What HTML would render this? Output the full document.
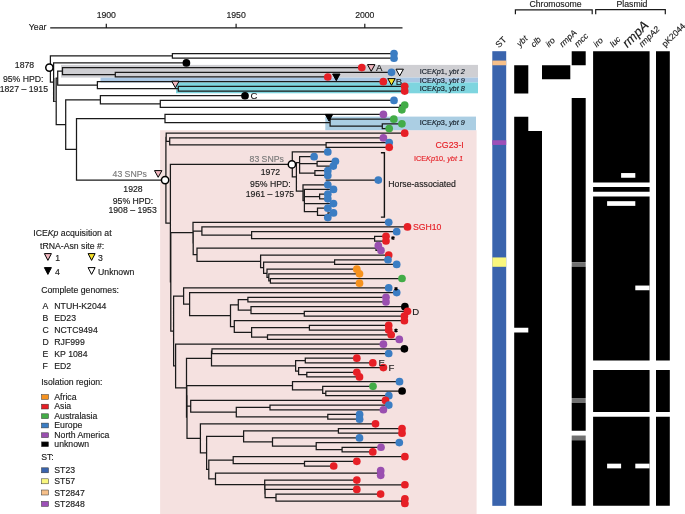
<!DOCTYPE html>
<html><head><meta charset="utf-8"><title>Figure</title><style>html,body{margin:0;padding:0;background:#fff;width:685px;height:514px;overflow:hidden}</style></head><body>
<svg width="685" height="514" viewBox="0 0 685 514" style="display:block;will-change:transform">
<style>text{stroke:currentColor;stroke-width:0.18px;stroke-opacity:0.8}</style>
<rect x="0" y="0" width="685" height="514" fill="#ffffff"/>
<rect x="160.1" y="130.2" width="316.5" height="383.8" fill="#f5e1e0"/>
<rect x="61.0" y="64.9" width="417.0" height="12.7" fill="#cfcfd3"/>
<rect x="100.5" y="77.6" width="377.5" height="4.8" fill="#a9c7e4"/>
<rect x="176.0" y="82.4" width="302.0" height="10.9" fill="#7ed5df"/>
<rect x="325.3" y="116.6" width="150.7" height="13.6" fill="#abcee3"/>
<path d="M172.4 53.54L394.0 53.54M172.4 58.23L394.0 58.23M172.4 53.54L172.4 58.23M50.4 55.89L172.4 55.89M53.6 62.92L186.4 62.92M62.5 67.60L361.8 67.60M115.3 72.29L391.5 72.29M115.3 76.98L327.8 76.98M115.3 72.29L115.3 76.98M62.5 74.63L115.3 74.63M62.5 67.60L62.5 74.63M57.7 71.12L62.5 71.12M97.4 81.67L383.3 81.67M178.3 86.35L404.7 86.35M178.3 91.04L404.7 91.04M178.3 86.35L178.3 91.04M97.4 88.70L178.3 88.70M97.4 81.67L97.4 88.70M57.7 85.18L97.4 85.18M57.7 71.12L57.7 85.18M56.2 78.15L57.7 78.15M100.4 95.73L245.0 95.73M160.3 100.41L394.0 100.41M400.0 105.10L404.7 105.10M400.0 109.79L401.9 109.79M400.0 105.10L400.0 109.79M160.3 107.44L400.0 107.44M160.3 100.41L160.3 107.44M100.4 103.93L160.3 103.93M100.4 95.73L100.4 103.93M65.7 99.83L100.4 99.83M165.0 114.47L383.4 114.47M330.1 119.16L393.8 119.16M382.3 123.85L401.9 123.85M382.3 128.54L389.2 128.54M382.3 123.85L382.3 128.54M330.1 126.19L382.3 126.19M330.1 119.16L330.1 126.19M165.0 122.68L330.1 122.68M165.0 114.47L165.0 122.68M76.5 118.58L165.0 118.58M166.2 133.22L404.7 133.22M169.7 137.91L383.4 137.91M326.1 142.60L389.2 142.60M326.1 147.28L389.2 147.28M326.1 142.60L326.1 147.28M169.7 144.94L326.1 144.94M169.7 137.91L169.7 144.94M166.2 141.42L169.7 141.42M166.2 133.22L166.2 141.42M165.9 137.32L166.2 137.32M292.3 151.97L327.8 151.97M299.6 156.66L314.1 156.66M317.1 161.34L335.4 161.34M317.1 166.03L333.3 166.03M317.1 161.34L317.1 166.03M299.6 163.69L317.1 163.69M314.9 170.72L327.8 170.72M314.9 175.41L327.8 175.41M314.9 170.72L314.9 175.41M299.6 173.06L314.9 173.06M299.6 156.66L299.6 173.06M296.4 162.50L299.6 162.50M303.0 184.78L327.8 184.78M304.4 189.47L333.5 189.47M319.6 194.15L327.8 194.15M319.6 198.84L327.8 198.84M319.6 194.15L319.6 198.84M304.4 196.50L319.6 196.50M304.4 203.53L333.5 203.53M317.5 208.21L327.8 208.21M328.0 212.90L333.5 212.90M328.0 217.59L327.8 217.59M328.0 212.90L328.0 217.59M317.5 215.25L328.0 215.25M317.5 208.21L317.5 215.25M304.4 211.73L317.5 211.73M304.4 189.47L304.4 211.73M303.0 200.60L304.4 200.60M303.0 184.78L303.0 200.60M296.4 191.20L303.0 191.20M296.4 162.50L296.4 191.20M292.3 176.85L296.4 176.85M292.3 151.97L292.3 176.85M170.4 164.41L292.3 164.41M193.0 222.28L388.7 222.28M201.9 226.96L407.5 226.96M251.6 231.65L396.7 231.65M374.6 236.34L386.0 236.34M374.6 241.02L386.0 241.02M374.6 236.34L374.6 241.02M251.6 238.68L374.6 238.68M251.6 231.65L251.6 238.68M201.9 235.16L251.6 235.16M201.9 226.96L201.9 235.16M193.2 231.06L201.9 231.06M376.0 245.71L378.3 245.71M376.0 250.40L381.0 250.40M376.0 245.71L376.0 250.40M197.0 248.05L376.0 248.05M260.6 255.08L388.7 255.08M334.6 259.77L388.0 259.77M334.6 264.46L396.7 264.46M334.6 259.77L334.6 264.46M263.6 262.12L334.6 262.12M267.0 269.15L356.8 269.15M268.8 273.83L359.5 273.83M270.4 278.52L402.0 278.52M270.4 283.21L359.5 283.21M270.4 278.52L270.4 283.21M268.8 280.86L270.4 280.86M268.8 273.83L268.8 280.86M267.0 277.35L268.8 277.35M267.0 269.15L267.0 277.35M263.6 273.25L267.0 273.25M263.6 262.12L263.6 273.25M260.6 267.68L263.6 267.68M260.6 255.08L260.6 267.68M197.0 261.38L260.6 261.38M197.0 248.05L197.0 261.38M193.2 254.72L197.0 254.72M193.2 231.06L193.2 254.72M193.0 242.89L193.2 242.89M193.0 222.28L193.0 242.89M170.8 232.58L193.0 232.58M183.6 287.89L388.7 287.89M189.6 292.58L396.7 292.58M247.9 297.27L386.0 297.27M247.9 301.95L386.0 301.95M247.9 297.27L247.9 301.95M238.3 299.61L247.9 299.61M251.0 306.64L404.9 306.64M304.3 311.33L407.5 311.33M304.3 316.02L404.4 316.02M304.3 311.33L304.3 316.02M251.0 313.67L304.3 313.67M251.0 306.64L251.0 313.67M238.3 310.16L251.0 310.16M238.3 299.61L238.3 310.16M230.5 304.88L238.3 304.88M234.3 320.70L404.4 320.70M309.4 325.39L388.7 325.39M309.4 330.08L388.7 330.08M309.4 325.39L309.4 330.08M251.6 327.73L309.4 327.73M267.5 334.76L391.2 334.76M267.5 339.45L399.3 339.45M267.5 334.76L267.5 339.45M251.6 337.11L267.5 337.11M251.6 327.73L251.6 337.11M234.3 332.42L251.6 332.42M234.3 320.70L234.3 332.42M230.5 326.56L234.3 326.56M230.5 304.88L230.5 326.56M189.6 315.72L230.5 315.72M189.6 292.58L189.6 315.72M183.6 304.15L189.6 304.15M183.6 287.89L183.6 304.15M173.6 296.02L183.6 296.02M175.6 344.14L383.4 344.14M212.0 348.82L404.4 348.82M212.0 353.51L388.7 353.51M212.0 348.82L212.0 353.51M211.5 351.17L212.0 351.17M305.3 358.20L356.8 358.20M305.3 362.89L372.8 362.89M305.3 358.20L305.3 362.89M295.6 360.54L305.3 360.54M298.6 367.57L383.4 367.57M306.8 372.26L356.8 372.26M306.8 376.95L359.5 376.95M306.8 372.26L306.8 376.95M298.6 374.60L306.8 374.60M298.6 367.57L298.6 374.60M295.6 371.09L298.6 371.09M295.6 360.54L295.6 371.09M211.5 365.81L295.6 365.81M211.5 351.17L211.5 365.81M186.5 358.49L211.5 358.49M292.5 381.63L399.5 381.63M322.7 386.32L373.0 386.32M325.8 391.01L402.1 391.01M325.8 395.69L388.8 395.69M325.8 391.01L325.8 395.69M322.7 393.35L325.8 393.35M322.7 386.32L322.7 393.35M292.5 389.84L322.7 389.84M292.5 381.63L292.5 389.84M186.8 385.73L292.5 385.73M190.7 400.38L385.5 400.38M270.0 405.07L388.8 405.07M270.0 409.76L383.4 409.76M270.0 405.07L270.0 409.76M236.3 407.41L270.0 407.41M327.8 414.44L359.6 414.44M327.8 419.13L359.6 419.13M327.8 414.44L327.8 419.13M236.3 416.79L327.8 416.79M236.3 407.41L236.3 416.79M190.7 412.10L236.3 412.10M190.7 400.38L190.7 412.10M186.8 406.24L190.7 406.24M186.8 385.73L186.8 406.24M187.0 395.99L186.8 395.99M200.4 423.82L375.5 423.82M338.4 428.50L402.0 428.50M338.4 433.19L402.0 433.19M338.4 428.50L338.4 433.19M243.6 430.85L338.4 430.85M272.5 437.88L359.5 437.88M316.2 442.56L399.3 442.56M342.1 447.25L381.0 447.25M342.1 451.94L372.8 451.94M342.1 447.25L342.1 451.94M316.2 449.60L342.1 449.60M316.2 442.56L316.2 449.60M272.5 446.08L316.2 446.08M272.5 437.88L272.5 446.08M243.6 441.98L272.5 441.98M243.6 430.85L243.6 441.98M206.6 436.41L243.6 436.41M233.2 456.63L404.9 456.63M304.5 461.31L356.8 461.31M304.5 466.00L333.7 466.00M304.5 461.31L304.5 466.00M233.2 463.66L304.5 463.66M233.2 456.63L233.2 463.66M208.8 460.14L233.2 460.14M378.0 470.69L380.7 470.69M378.0 475.37L380.7 475.37M378.0 470.69L378.0 475.37M215.5 473.03L378.0 473.03M264.7 480.06L356.8 480.06M264.9 484.75L404.9 484.75M265.1 489.43L356.8 489.43M276.0 494.12L380.6 494.12M402.0 498.81L404.9 498.81M402.0 503.50L404.9 503.50M402.0 498.81L402.0 503.50M276.0 501.15L402.0 501.15M276.0 494.12L276.0 501.15M265.1 497.64L276.0 497.64M265.1 489.43L265.1 497.64M264.9 493.54L265.1 493.54M264.9 484.75L264.9 493.54M264.7 489.14L264.9 489.14M264.7 480.06L264.7 489.14M215.5 484.60L264.7 484.60M215.5 473.03L215.5 484.60M208.8 478.82L215.5 478.82M208.8 460.14L208.8 478.82M206.6 469.48L208.8 469.48M206.6 436.41L206.6 469.48M200.4 452.95L206.6 452.95M200.4 423.82L200.4 452.95M187.0 438.38L200.4 438.38M187.0 395.99L187.0 438.38M186.5 417.18L187.0 417.18M186.5 358.49L186.5 417.18M175.6 387.84L186.5 387.84M175.6 344.14L175.6 387.84M173.6 365.99L175.6 365.99M173.6 296.02L173.6 365.99M170.8 331.01L173.6 331.01M170.8 232.58L170.8 331.01M170.4 281.79L170.8 281.79M170.4 164.41L170.4 281.79M165.9 223.10L170.4 223.10M165.9 137.32L165.9 223.10M76.5 180.21L165.9 180.21M76.5 118.58L76.5 180.21M65.7 149.39L76.5 149.39M65.7 99.83L65.7 149.39M56.2 124.61L65.7 124.61M56.2 78.15L56.2 124.61M53.6 101.38L56.2 101.38M53.6 62.92L53.6 101.38M50.4 82.15L53.6 82.15M50.4 55.89L50.4 82.15M326.3 180.09L378.3 180.09" stroke="#1a1a1a" stroke-width="1.25" fill="none" stroke-linecap="square"/>
<line x1="55.0" y1="78.0" x2="55.0" y2="101.3" stroke="#8a8a8a" stroke-width="2"/>
<circle cx="394.0" cy="53.54" r="3.85" fill="#3b7dc3"/>
<circle cx="394.0" cy="58.23" r="3.85" fill="#3b7dc3"/>
<circle cx="186.4" cy="62.92" r="3.85" fill="#000000"/>
<circle cx="361.8" cy="67.60" r="3.85" fill="#e61f26"/>
<circle cx="391.5" cy="72.29" r="3.85" fill="#3b7dc3"/>
<circle cx="327.8" cy="76.98" r="3.85" fill="#e61f26"/>
<circle cx="383.3" cy="81.67" r="3.85" fill="#e61f26"/>
<circle cx="404.7" cy="86.35" r="3.85" fill="#e61f26"/>
<circle cx="404.7" cy="91.04" r="3.85" fill="#e61f26"/>
<circle cx="245.0" cy="95.73" r="3.85" fill="#000000"/>
<circle cx="394.0" cy="100.41" r="3.85" fill="#3b7dc3"/>
<circle cx="404.7" cy="105.10" r="3.85" fill="#43ac47"/>
<circle cx="401.9" cy="109.79" r="3.85" fill="#43ac47"/>
<circle cx="383.4" cy="114.47" r="3.85" fill="#9a4fb0"/>
<circle cx="393.8" cy="119.16" r="3.85" fill="#43ac47"/>
<circle cx="401.9" cy="123.85" r="3.85" fill="#43ac47"/>
<circle cx="389.2" cy="128.54" r="3.85" fill="#43ac47"/>
<circle cx="404.7" cy="133.22" r="3.85" fill="#e61f26"/>
<circle cx="383.4" cy="137.91" r="3.85" fill="#9a4fb0"/>
<circle cx="389.2" cy="142.60" r="3.85" fill="#3b7dc3"/>
<circle cx="389.2" cy="147.28" r="3.85" fill="#e61f26"/>
<circle cx="327.8" cy="151.97" r="3.85" fill="#3b7dc3"/>
<circle cx="314.1" cy="156.66" r="3.85" fill="#3b7dc3"/>
<circle cx="335.4" cy="161.34" r="3.85" fill="#3b7dc3"/>
<circle cx="333.3" cy="166.03" r="3.85" fill="#3b7dc3"/>
<circle cx="327.8" cy="170.72" r="3.85" fill="#3b7dc3"/>
<circle cx="327.8" cy="175.41" r="3.85" fill="#3b7dc3"/>
<circle cx="327.8" cy="184.78" r="3.85" fill="#3b7dc3"/>
<circle cx="333.5" cy="189.47" r="3.85" fill="#3b7dc3"/>
<circle cx="327.8" cy="194.15" r="3.85" fill="#3b7dc3"/>
<circle cx="327.8" cy="198.84" r="3.85" fill="#3b7dc3"/>
<circle cx="333.5" cy="203.53" r="3.85" fill="#3b7dc3"/>
<circle cx="327.8" cy="208.21" r="3.85" fill="#3b7dc3"/>
<circle cx="333.5" cy="212.90" r="3.85" fill="#3b7dc3"/>
<circle cx="327.8" cy="217.59" r="3.85" fill="#3b7dc3"/>
<circle cx="388.7" cy="222.28" r="3.85" fill="#3b7dc3"/>
<circle cx="407.5" cy="226.96" r="3.85" fill="#e61f26"/>
<circle cx="396.7" cy="231.65" r="3.85" fill="#3b7dc3"/>
<circle cx="386.0" cy="236.34" r="3.85" fill="#e61f26"/>
<circle cx="386.0" cy="241.02" r="3.85" fill="#e61f26"/>
<circle cx="378.3" cy="245.71" r="3.85" fill="#9a4fb0"/>
<circle cx="381.0" cy="250.40" r="3.85" fill="#9a4fb0"/>
<circle cx="388.7" cy="255.08" r="3.85" fill="#e61f26"/>
<circle cx="388.0" cy="259.77" r="3.85" fill="#3b7dc3"/>
<circle cx="396.7" cy="264.46" r="3.85" fill="#3b7dc3"/>
<circle cx="356.8" cy="269.15" r="3.85" fill="#f6921e"/>
<circle cx="359.5" cy="273.83" r="3.85" fill="#f6921e"/>
<circle cx="402.0" cy="278.52" r="3.85" fill="#43ac47"/>
<circle cx="359.5" cy="283.21" r="3.85" fill="#f6921e"/>
<circle cx="388.7" cy="287.89" r="3.85" fill="#3b7dc3"/>
<circle cx="396.7" cy="292.58" r="3.85" fill="#3b7dc3"/>
<circle cx="386.0" cy="297.27" r="3.85" fill="#9a4fb0"/>
<circle cx="386.0" cy="301.95" r="3.85" fill="#9a4fb0"/>
<circle cx="404.9" cy="306.64" r="3.85" fill="#000000"/>
<circle cx="407.5" cy="311.33" r="3.85" fill="#e61f26"/>
<circle cx="404.4" cy="316.02" r="3.85" fill="#e61f26"/>
<circle cx="404.4" cy="320.70" r="3.85" fill="#e61f26"/>
<circle cx="388.7" cy="325.39" r="3.85" fill="#e61f26"/>
<circle cx="388.7" cy="330.08" r="3.85" fill="#e61f26"/>
<circle cx="391.2" cy="334.76" r="3.85" fill="#e61f26"/>
<circle cx="399.3" cy="339.45" r="3.85" fill="#9a4fb0"/>
<circle cx="383.4" cy="344.14" r="3.85" fill="#9a4fb0"/>
<circle cx="404.4" cy="348.82" r="3.85" fill="#000000"/>
<circle cx="388.7" cy="353.51" r="3.85" fill="#3b7dc3"/>
<circle cx="356.8" cy="358.20" r="3.85" fill="#e61f26"/>
<circle cx="372.8" cy="362.89" r="3.85" fill="#e61f26"/>
<circle cx="383.4" cy="367.57" r="3.85" fill="#e61f26"/>
<circle cx="356.8" cy="372.26" r="3.85" fill="#e61f26"/>
<circle cx="359.5" cy="376.95" r="3.85" fill="#e61f26"/>
<circle cx="399.5" cy="381.63" r="3.85" fill="#3b7dc3"/>
<circle cx="373.0" cy="386.32" r="3.85" fill="#43ac47"/>
<circle cx="402.1" cy="391.01" r="3.85" fill="#000000"/>
<circle cx="388.8" cy="395.69" r="3.85" fill="#3b7dc3"/>
<circle cx="385.5" cy="400.38" r="3.85" fill="#e61f26"/>
<circle cx="388.8" cy="405.07" r="3.85" fill="#3b7dc3"/>
<circle cx="383.4" cy="409.76" r="3.85" fill="#9a4fb0"/>
<circle cx="359.6" cy="414.44" r="3.85" fill="#3b7dc3"/>
<circle cx="359.6" cy="419.13" r="3.85" fill="#3b7dc3"/>
<circle cx="375.5" cy="423.82" r="3.85" fill="#e61f26"/>
<circle cx="402.0" cy="428.50" r="3.85" fill="#e61f26"/>
<circle cx="402.0" cy="433.19" r="3.85" fill="#e61f26"/>
<circle cx="359.5" cy="437.88" r="3.85" fill="#3b7dc3"/>
<circle cx="399.3" cy="442.56" r="3.85" fill="#3b7dc3"/>
<circle cx="381.0" cy="447.25" r="3.85" fill="#9a4fb0"/>
<circle cx="372.8" cy="451.94" r="3.85" fill="#e61f26"/>
<circle cx="404.9" cy="456.63" r="3.85" fill="#e61f26"/>
<circle cx="356.8" cy="461.31" r="3.85" fill="#e61f26"/>
<circle cx="333.7" cy="466.00" r="3.85" fill="#e61f26"/>
<circle cx="380.7" cy="470.69" r="3.85" fill="#9a4fb0"/>
<circle cx="380.7" cy="475.37" r="3.85" fill="#9a4fb0"/>
<circle cx="356.8" cy="480.06" r="3.85" fill="#e61f26"/>
<circle cx="404.9" cy="484.75" r="3.85" fill="#e61f26"/>
<circle cx="356.8" cy="489.43" r="3.85" fill="#e61f26"/>
<circle cx="380.6" cy="494.12" r="3.85" fill="#e61f26"/>
<circle cx="404.9" cy="498.81" r="3.85" fill="#e61f26"/>
<circle cx="404.9" cy="503.50" r="3.85" fill="#e61f26"/>
<circle cx="378.3" cy="180.09" r="3.85" fill="#3b7dc3"/>
<path d="M367.50 64.60L374.90 64.60L371.20 71.30Z" fill="#f2b8c0" stroke="#000" stroke-width="1.0" stroke-linejoin="miter"/>
<path d="M396.00 69.20L403.40 69.20L399.70 75.90Z" fill="#ffffff" stroke="#000" stroke-width="1.0" stroke-linejoin="miter"/>
<path d="M332.60 74.00L340.00 74.00L336.30 80.70Z" fill="#000000" stroke="#000" stroke-width="1.0" stroke-linejoin="miter"/>
<path d="M387.80 78.60L395.20 78.60L391.50 85.30Z" fill="#f5e02a" stroke="#000" stroke-width="1.0" stroke-linejoin="miter"/>
<path d="M325.30 114.40L332.70 114.40L329.00 121.10Z" fill="#000000" stroke="#000" stroke-width="1.0" stroke-linejoin="miter"/>
<path d="M154.50 170.60L161.90 170.60L158.20 177.30Z" fill="#f2b8c0" stroke="#000" stroke-width="1.0" stroke-linejoin="miter"/>
<path d="M171.70 81.20L179.10 81.20L175.40 87.80Z" fill="#f2b8c0" stroke="#000" stroke-width="1.0" stroke-linejoin="miter"/>
<circle cx="49.4" cy="67.6" r="3.65" fill="#fff" stroke="#000" stroke-width="1.5"/>
<circle cx="165.1" cy="180.1" r="3.65" fill="#fff" stroke="#000" stroke-width="1.5"/>
<circle cx="291.9" cy="164.4" r="3.65" fill="#fff" stroke="#000" stroke-width="1.5"/>
<path d="M380.9 152.8H384.4V217.1H380.9" stroke="#111" stroke-width="1.4" fill="none"/>
<path d="M50.2 27.8H402.5M106.3 27.8V23.8M236.1 27.8V23.8M364.8 27.8V23.8" stroke="#1a1a1a" stroke-width="1.2" fill="none"/>
<text x="37.6" y="30.2" font-size="8.7" text-anchor="middle" fill="#1a1a1a" color="#1a1a1a" style="font-family:'Liberation Sans',sans-serif" >Year</text>
<text x="106.3" y="18.4" font-size="8.7" text-anchor="middle" fill="#1a1a1a" color="#1a1a1a" style="font-family:'Liberation Sans',sans-serif" >1900</text>
<text x="236.1" y="18.4" font-size="8.7" text-anchor="middle" fill="#1a1a1a" color="#1a1a1a" style="font-family:'Liberation Sans',sans-serif" >1950</text>
<text x="364.8" y="18.4" font-size="8.7" text-anchor="middle" fill="#1a1a1a" color="#1a1a1a" style="font-family:'Liberation Sans',sans-serif" >2000</text>
<text x="24.5" y="68.1" font-size="8.7" text-anchor="middle" fill="#1a1a1a" color="#1a1a1a" style="font-family:'Liberation Sans',sans-serif" >1878</text>
<text x="23.2" y="81.5" font-size="8.7" text-anchor="middle" fill="#1a1a1a" color="#1a1a1a" style="font-family:'Liberation Sans',sans-serif" >95% HPD:</text>
<text x="23.8" y="92.0" font-size="8.7" text-anchor="middle" fill="#1a1a1a" color="#1a1a1a" style="font-family:'Liberation Sans',sans-serif" >1827 – 1915</text>
<text x="129.7" y="176.8" font-size="8.7" text-anchor="middle" fill="#7a7a7a" color="#7a7a7a" style="font-family:'Liberation Sans',sans-serif" >43 SNPs</text>
<text x="133.0" y="191.8" font-size="8.7" text-anchor="middle" fill="#1a1a1a" color="#1a1a1a" style="font-family:'Liberation Sans',sans-serif" >1928</text>
<text x="133.0" y="203.9" font-size="8.7" text-anchor="middle" fill="#1a1a1a" color="#1a1a1a" style="font-family:'Liberation Sans',sans-serif" >95% HPD:</text>
<text x="132.6" y="213.2" font-size="8.7" text-anchor="middle" fill="#1a1a1a" color="#1a1a1a" style="font-family:'Liberation Sans',sans-serif" >1908 – 1953</text>
<text x="266.7" y="161.5" font-size="8.7" text-anchor="middle" fill="#7a7a7a" color="#7a7a7a" style="font-family:'Liberation Sans',sans-serif" >83 SNPs</text>
<text x="270.4" y="175.2" font-size="8.7" text-anchor="middle" fill="#1a1a1a" color="#1a1a1a" style="font-family:'Liberation Sans',sans-serif" >1972</text>
<text x="270.4" y="186.6" font-size="8.7" text-anchor="middle" fill="#1a1a1a" color="#1a1a1a" style="font-family:'Liberation Sans',sans-serif" >95% HPD:</text>
<text x="269.9" y="196.8" font-size="8.7" text-anchor="middle" fill="#1a1a1a" color="#1a1a1a" style="font-family:'Liberation Sans',sans-serif" >1961 – 1975</text>
<text x="388.3" y="186.6" font-size="8.7" text-anchor="start" fill="#1a1a1a" color="#1a1a1a" style="font-family:'Liberation Sans',sans-serif" >Horse-associated</text>
<text x="375.9" y="70.9" font-size="9.6" text-anchor="start" fill="#1a1a1a" color="#1a1a1a" style="font-family:'Liberation Sans',sans-serif" >A</text>
<text x="395.8" y="84.9" font-size="9.6" text-anchor="start" fill="#1a1a1a" color="#1a1a1a" style="font-family:'Liberation Sans',sans-serif" >B</text>
<text x="250.6" y="99.2" font-size="9.6" text-anchor="start" fill="#1a1a1a" color="#1a1a1a" style="font-family:'Liberation Sans',sans-serif" >C</text>
<text x="412.3" y="314.6" font-size="9.6" text-anchor="start" fill="#1a1a1a" color="#1a1a1a" style="font-family:'Liberation Sans',sans-serif" >D</text>
<text x="378.5" y="365.5" font-size="9.6" text-anchor="start" fill="#1a1a1a" color="#1a1a1a" style="font-family:'Liberation Sans',sans-serif" >E</text>
<text x="388.6" y="371.4" font-size="9.6" text-anchor="start" fill="#1a1a1a" color="#1a1a1a" style="font-family:'Liberation Sans',sans-serif" >F</text>
<text x="412.9" y="230.0" font-size="8.7" text-anchor="start" fill="#e61f26" color="#e61f26" style="font-family:'Liberation Sans',sans-serif" >SGH10</text>
<path d="M393.00 236.10V239.90M391.35 237.05L394.65 238.95M394.65 237.05L391.35 238.95" stroke="#000" stroke-width="1.1" fill="none"/>
<path d="M396.00 286.90V290.70M394.35 287.85L397.65 289.75M397.65 287.85L394.35 289.75" stroke="#000" stroke-width="1.1" fill="none"/>
<path d="M396.00 328.60V332.40M394.35 329.55L397.65 331.45M397.65 329.55L394.35 331.45" stroke="#000" stroke-width="1.1" fill="none"/>
<text x="464.8" y="73.8" font-size="7.3" text-anchor="end" fill="#111a24" color="#111a24" style="font-family:'Liberation Sans',sans-serif">ICE<tspan font-style="italic">Kp</tspan>1, <tspan font-style="italic">ybt 2</tspan></text>
<text x="464.8" y="83.1" font-size="7.3" text-anchor="end" fill="#111a24" color="#111a24" style="font-family:'Liberation Sans',sans-serif">ICE<tspan font-style="italic">Kp</tspan>3, <tspan font-style="italic">ybt 9</tspan></text>
<text x="464.8" y="91.0" font-size="7.3" text-anchor="end" fill="#111a24" color="#111a24" style="font-family:'Liberation Sans',sans-serif">ICE<tspan font-style="italic">Kp</tspan>3, <tspan font-style="italic">ybt 8</tspan></text>
<text x="464.8" y="125.2" font-size="7.3" text-anchor="end" fill="#111a24" color="#111a24" style="font-family:'Liberation Sans',sans-serif">ICE<tspan font-style="italic">Kp</tspan>3, <tspan font-style="italic">ybt 9</tspan></text>
<text x="463.0" y="160.7" font-size="7.3" text-anchor="end" fill="#e61f26" color="#e61f26" style="font-family:'Liberation Sans',sans-serif">ICE<tspan font-style="italic">Kp</tspan>10, <tspan font-style="italic">ybt 1</tspan></text>
<text x="463.8" y="148.3" font-size="8.8" text-anchor="end" fill="#e61f26" color="#e61f26" style="font-family:'Liberation Sans',sans-serif" >CG23-I</text>
<text x="33.3" y="235.8" font-size="8.7" fill="#1a1a1a" color="#1a1a1a" style="font-family:'Liberation Sans',sans-serif">ICE<tspan font-style="italic">Kp</tspan> acquisition at</text>
<text x="40.0" y="248.9" font-size="8.7" text-anchor="start" fill="#1a1a1a" color="#1a1a1a" style="font-family:'Liberation Sans',sans-serif" >tRNA-Asn site #:</text>
<path d="M44.40 253.60L51.40 253.60L47.90 260.40Z" fill="#f2b8c0" stroke="#000" stroke-width="1.0" stroke-linejoin="miter"/>
<text x="55.2" y="260.6" font-size="8.7" text-anchor="start" fill="#1a1a1a" color="#1a1a1a" style="font-family:'Liberation Sans',sans-serif" >1</text>
<path d="M88.10 253.60L95.10 253.60L91.60 260.40Z" fill="#f5e02a" stroke="#000" stroke-width="1.0" stroke-linejoin="miter"/>
<text x="98.1" y="260.6" font-size="8.7" text-anchor="start" fill="#1a1a1a" color="#1a1a1a" style="font-family:'Liberation Sans',sans-serif" >3</text>
<path d="M44.40 267.60L51.40 267.60L47.90 274.40Z" fill="#000" stroke="#000" stroke-width="1.0" stroke-linejoin="miter"/>
<text x="55.0" y="274.6" font-size="8.7" text-anchor="start" fill="#1a1a1a" color="#1a1a1a" style="font-family:'Liberation Sans',sans-serif" >4</text>
<path d="M88.10 267.60L95.10 267.60L91.60 274.40Z" fill="#fff" stroke="#000" stroke-width="1.0" stroke-linejoin="miter"/>
<text x="98.1" y="274.7" font-size="8.7" text-anchor="start" fill="#1a1a1a" color="#1a1a1a" style="font-family:'Liberation Sans',sans-serif" >Unknown</text>
<text x="41.2" y="293.4" font-size="8.7" text-anchor="start" fill="#1a1a1a" color="#1a1a1a" style="font-family:'Liberation Sans',sans-serif" >Complete genomes:</text>
<text x="42.6" y="308.7" font-size="8.7" text-anchor="start" fill="#1a1a1a" color="#1a1a1a" style="font-family:'Liberation Sans',sans-serif" >A</text>
<text x="54.3" y="308.7" font-size="8.7" text-anchor="start" fill="#1a1a1a" color="#1a1a1a" style="font-family:'Liberation Sans',sans-serif" >NTUH-K2044</text>
<text x="42.6" y="320.6" font-size="8.7" text-anchor="start" fill="#1a1a1a" color="#1a1a1a" style="font-family:'Liberation Sans',sans-serif" >B</text>
<text x="54.3" y="320.6" font-size="8.7" text-anchor="start" fill="#1a1a1a" color="#1a1a1a" style="font-family:'Liberation Sans',sans-serif" >ED23</text>
<text x="42.6" y="332.8" font-size="8.7" text-anchor="start" fill="#1a1a1a" color="#1a1a1a" style="font-family:'Liberation Sans',sans-serif" >C</text>
<text x="54.3" y="332.8" font-size="8.7" text-anchor="start" fill="#1a1a1a" color="#1a1a1a" style="font-family:'Liberation Sans',sans-serif" >NCTC9494</text>
<text x="42.6" y="344.6" font-size="8.7" text-anchor="start" fill="#1a1a1a" color="#1a1a1a" style="font-family:'Liberation Sans',sans-serif" >D</text>
<text x="54.3" y="344.6" font-size="8.7" text-anchor="start" fill="#1a1a1a" color="#1a1a1a" style="font-family:'Liberation Sans',sans-serif" >RJF999</text>
<text x="42.6" y="356.8" font-size="8.7" text-anchor="start" fill="#1a1a1a" color="#1a1a1a" style="font-family:'Liberation Sans',sans-serif" >E</text>
<text x="54.3" y="356.8" font-size="8.7" text-anchor="start" fill="#1a1a1a" color="#1a1a1a" style="font-family:'Liberation Sans',sans-serif" >KP 1084</text>
<text x="42.6" y="368.7" font-size="8.7" text-anchor="start" fill="#1a1a1a" color="#1a1a1a" style="font-family:'Liberation Sans',sans-serif" >F</text>
<text x="54.3" y="368.7" font-size="8.7" text-anchor="start" fill="#1a1a1a" color="#1a1a1a" style="font-family:'Liberation Sans',sans-serif" >ED2</text>
<text x="41.2" y="384.5" font-size="8.7" text-anchor="start" fill="#1a1a1a" color="#1a1a1a" style="font-family:'Liberation Sans',sans-serif" >Isolation region:</text>
<rect x="41.5" y="394.6" width="7" height="4.8" fill="#f6921e" stroke="#333" stroke-width="0.5"/>
<text x="54.3" y="399.8" font-size="8.7" text-anchor="start" fill="#1a1a1a" color="#1a1a1a" style="font-family:'Liberation Sans',sans-serif" >Africa</text>
<rect x="41.5" y="404.2" width="7" height="4.8" fill="#e61f26" stroke="#333" stroke-width="0.5"/>
<text x="54.3" y="409.4" font-size="8.7" text-anchor="start" fill="#1a1a1a" color="#1a1a1a" style="font-family:'Liberation Sans',sans-serif" >Asia</text>
<rect x="41.5" y="413.8" width="7" height="4.8" fill="#43ac47" stroke="#333" stroke-width="0.5"/>
<text x="54.3" y="419.0" font-size="8.7" text-anchor="start" fill="#1a1a1a" color="#1a1a1a" style="font-family:'Liberation Sans',sans-serif" >Australasia</text>
<rect x="41.5" y="423.1" width="7" height="4.8" fill="#3b7dc3" stroke="#333" stroke-width="0.5"/>
<text x="54.3" y="428.3" font-size="8.7" text-anchor="start" fill="#1a1a1a" color="#1a1a1a" style="font-family:'Liberation Sans',sans-serif" >Europe</text>
<rect x="41.5" y="432.8" width="7" height="4.8" fill="#9a4fb0" stroke="#333" stroke-width="0.5"/>
<text x="54.3" y="438.0" font-size="8.7" text-anchor="start" fill="#1a1a1a" color="#1a1a1a" style="font-family:'Liberation Sans',sans-serif" >North America</text>
<rect x="41.5" y="441.9" width="7" height="4.8" fill="#000000" stroke="#333" stroke-width="0.5"/>
<text x="54.3" y="447.1" font-size="8.7" text-anchor="start" fill="#1a1a1a" color="#1a1a1a" style="font-family:'Liberation Sans',sans-serif" >unknown</text>
<text x="41.2" y="460.4" font-size="8.7" text-anchor="start" fill="#1a1a1a" color="#1a1a1a" style="font-family:'Liberation Sans',sans-serif" >ST:</text>
<rect x="41.5" y="467.8" width="7" height="5" fill="#3a64ad" stroke="#333" stroke-width="0.5"/>
<text x="54.3" y="473.4" font-size="8.7" text-anchor="start" fill="#1a1a1a" color="#1a1a1a" style="font-family:'Liberation Sans',sans-serif" >ST23</text>
<rect x="41.5" y="478.8" width="7" height="5" fill="#f9f77e" stroke="#333" stroke-width="0.5"/>
<text x="54.3" y="484.4" font-size="8.7" text-anchor="start" fill="#1a1a1a" color="#1a1a1a" style="font-family:'Liberation Sans',sans-serif" >ST57</text>
<rect x="41.5" y="490.0" width="7" height="5" fill="#f6c08a" stroke="#333" stroke-width="0.5"/>
<text x="54.3" y="495.6" font-size="8.7" text-anchor="start" fill="#1a1a1a" color="#1a1a1a" style="font-family:'Liberation Sans',sans-serif" >ST2847</text>
<rect x="41.5" y="501.4" width="7" height="5" fill="#9d50b8" stroke="#333" stroke-width="0.5"/>
<text x="54.3" y="507.0" font-size="8.7" text-anchor="start" fill="#1a1a1a" color="#1a1a1a" style="font-family:'Liberation Sans',sans-serif" >ST2848</text>
<rect x="492.3" y="51.20" width="13.9" height="454.64" fill="#3a64ad"/>
<rect x="492.3" y="60.57" width="13.9" height="4.69" fill="#f6c08a"/>
<rect x="492.3" y="140.25" width="13.9" height="4.69" fill="#9d50b8"/>
<rect x="492.3" y="257.43" width="13.9" height="9.37" fill="#f9f77e"/>








<rect x="571.7" y="262.12" width="14.0" height="4.69" fill="#707070"/>

<rect x="571.7" y="398.04" width="14.0" height="4.69" fill="#707070"/>

<rect x="571.7" y="435.53" width="14.0" height="4.69" fill="#707070"/>






<path d="M514.20 65.26H528.30V93.38H514.20ZM514.20 116.82H528.30V130.88H514.20ZM514.20 130.88H542.00V327.73H514.20ZM528.30 327.73H542.00V332.42H528.30ZM514.20 332.42H542.00V505.84H514.20ZM542.00 65.26H570.30V79.32H542.00ZM571.70 51.20H585.70V65.26H571.70ZM571.70 98.07H585.70V262.12H571.70ZM571.70 266.80H585.70V398.04H571.70ZM571.70 402.73H585.70V430.85H571.70ZM571.70 440.22H585.70V505.84H571.70ZM593.10 51.20H649.60V182.44H593.10ZM593.10 187.12H649.60V191.81H593.10ZM593.10 196.50H649.60V360.54H593.10ZM593.10 369.92H649.60V412.10H593.10ZM593.10 416.79H649.60V505.84H593.10Z" fill="#000"/>
<rect x="621.1" y="173.06" width="14.2" height="4.69" fill="#ffffff"/>
<rect x="607.1" y="201.18" width="28.2" height="4.69" fill="#ffffff"/>
<rect x="635.3" y="285.55" width="14.3" height="4.69" fill="#ffffff"/>
<rect x="607.1" y="463.66" width="14.0" height="4.69" fill="#ffffff"/>
<rect x="635.3" y="463.66" width="14.3" height="4.69" fill="#ffffff"/>



<path d="M656.00 51.20H669.80V360.54H656.00ZM656.00 369.92H669.80V412.10H656.00ZM656.00 416.79H669.80V505.84H656.00Z" fill="#000"/>
<path d="M515.4 14.3V9.9H592.2V14.3M595.7 14.3V9.6H665.3V14.3" stroke="#1a1a1a" stroke-width="1.2" fill="none"/>
<text x="555.5" y="6.6" font-size="8.7" text-anchor="middle" fill="#1a1a1a" color="#1a1a1a" style="font-family:'Liberation Sans',sans-serif" >Chromosome</text>
<text x="632.0" y="6.7" font-size="8.7" text-anchor="middle" fill="#1a1a1a" color="#1a1a1a" style="font-family:'Liberation Sans',sans-serif" >Plasmid</text>
<text x="0" y="0" font-size="8.8" fill="#1a1a1a" color="#1a1a1a" style="font-family:'Liberation Sans',sans-serif;" transform="translate(499.0,48.2) rotate(-45)">ST</text>
<text x="0" y="0" font-size="8.5" fill="#1a1a1a" color="#1a1a1a" style="font-family:'Liberation Sans',sans-serif;font-style:italic;" transform="translate(520.1,47.2) rotate(-45)">ybt</text>
<text x="0" y="0" font-size="8.5" fill="#1a1a1a" color="#1a1a1a" style="font-family:'Liberation Sans',sans-serif;font-style:italic;" transform="translate(533.9,47.8) rotate(-45)">clb</text>
<text x="0" y="0" font-size="8.5" fill="#1a1a1a" color="#1a1a1a" style="font-family:'Liberation Sans',sans-serif;font-style:italic;" transform="translate(549.0,47.6) rotate(-45)">iro</text>
<text x="0" y="0" font-size="8.5" fill="#1a1a1a" color="#1a1a1a" style="font-family:'Liberation Sans',sans-serif;font-style:italic;" transform="translate(562.8,47.6) rotate(-45)">rmpA</text>
<text x="0" y="0" font-size="8.5" fill="#1a1a1a" color="#1a1a1a" style="font-family:'Liberation Sans',sans-serif;font-style:italic;" transform="translate(577.8,47.6) rotate(-45)">mcc</text>
<text x="0" y="0" font-size="8.5" fill="#1a1a1a" color="#1a1a1a" style="font-family:'Liberation Sans',sans-serif;font-style:italic;" transform="translate(596.8,47.6) rotate(-45)">iro</text>
<text x="0" y="0" font-size="8.5" fill="#1a1a1a" color="#1a1a1a" style="font-family:'Liberation Sans',sans-serif;font-style:italic;" transform="translate(613.3,47.4) rotate(-45)">luc</text>
<text x="0" y="0" font-size="13.0" fill="#1a1a1a" color="#1a1a1a" style="font-family:'Liberation Sans',sans-serif;font-style:italic;" transform="translate(627.5,48.2) rotate(-45)">rmpA</text>
<text x="0" y="0" font-size="8.5" fill="#1a1a1a" color="#1a1a1a" style="font-family:'Liberation Sans',sans-serif;font-style:italic;" transform="translate(642.3,47.4) rotate(-45)">rmpA2</text>
<text x="0" y="0" font-size="8.5" fill="#1a1a1a" color="#1a1a1a" style="font-family:'Liberation Sans',sans-serif;" transform="translate(665.2,47.4) rotate(-45)">pK2044</text>
</svg>
</body></html>
